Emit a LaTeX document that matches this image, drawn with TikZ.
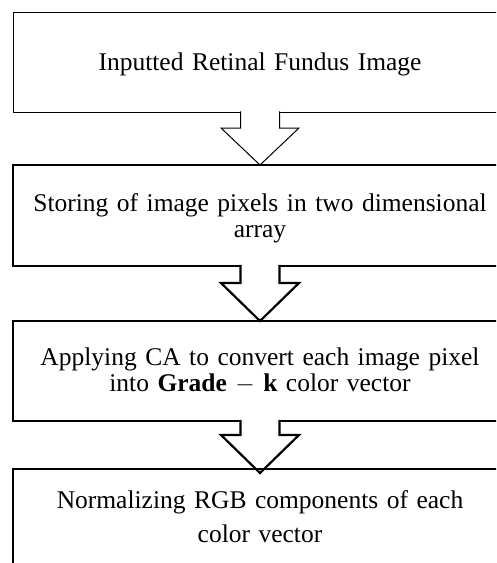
\documentclass[tikz,border=0pt]{standalone}
\usepackage{fontspec}
\setmainfont{Liberation Serif}
\begin{document}
\begin{tikzpicture}[x=1pt,y=-1pt,
  stepbox/.style={rectangle,minimum width=494pt,inner sep=0pt,outer sep=0pt},
  thinline/.style={line width=1pt},
  thickline/.style={line width=2.2pt},
  blockarrow/.style={draw=black,fill=white,line join=miter,miter limit=10},
  lbl/.style={align=center,inner sep=0pt,anchor=base,text width=470pt},
  lbla/.style={lbl,font=\fontsize{25.5}{26}\selectfont},
  lblb/.style={lbl,font=\fontsize{25.5}{34}\selectfont}
]
\useasboundingbox (0,0) rectangle (496,563);
\clip (0,0) rectangle (496,563);
% box nodes (outlines drawn below in stacking order)
\node[stepbox,minimum height=100pt] (b1) at (260,62) {};
\node[stepbox,minimum height=101pt] (b2) at (260,215.5) {};
\node[stepbox,minimum height=100pt] (b3) at (260,371) {};
\node[stepbox,minimum height=130pt] (b4) at (260,534) {};
\coordinate (tip3) at ([yshift=-4pt]b4.north);
% box 1 and arrow 1
\draw[thinline] (b1.north west) rectangle (b1.south east);
\draw[blockarrow,thinline]
  ([xshift=-19.5pt,yshift=0.6pt]b1.south) -- ([xshift=-19.5pt,yshift=37pt]b2.north)
  -- ([xshift=-39pt,yshift=37pt]b2.north) -- (b2.north)
  -- ([xshift=39pt,yshift=37pt]b2.north) -- ([xshift=19.5pt,yshift=37pt]b2.north)
  -- ([xshift=19.5pt,yshift=0.6pt]b1.south);
% box 2 and arrow 2
\draw[thickline] (b2.north west) rectangle (b2.south east);
\draw[blockarrow,thickline]
  ([xshift=-19.5pt,yshift=1.2pt]b2.south) -- ([xshift=-19.5pt,yshift=38pt]b3.north)
  -- ([xshift=-39pt,yshift=38pt]b3.north) -- (b3.north)
  -- ([xshift=39pt,yshift=38pt]b3.north) -- ([xshift=19.5pt,yshift=38pt]b3.north)
  -- ([xshift=19.5pt,yshift=1.2pt]b2.south);
% box 3 and arrow 3
\draw[thickline] (b3.north west) rectangle (b3.south east);
\draw[blockarrow,thickline]
  ([xshift=-19.5pt,yshift=1.2pt]b3.south) -- ([xshift=-19.5pt,yshift=38pt]tip3)
  -- ([xshift=-39pt,yshift=38pt]tip3) -- (tip3)
  -- ([xshift=39pt,yshift=38pt]tip3) -- ([xshift=19.5pt,yshift=38pt]tip3)
  -- ([xshift=19.5pt,yshift=1.2pt]b3.south);
% box 4
\draw[thickline] (b4.north west) rectangle (b4.south east);
% texts
\node[lbla] (t1) at (260,70) {Inputted Retinal Fundus Image};
\node[lbla] (t2) at (260,211) {Storing of image pixels in two dimensional\\array};
\node[lbla] (t3) at (260,365) {Applying CA to convert each image pixel\\into \textbf{Grade} $-$ \textbf{k} color vector};
\node[lblb] (t4) at (260,508) {Normalizing RGB components of each\\color vector};
\end{tikzpicture}
\end{document}
